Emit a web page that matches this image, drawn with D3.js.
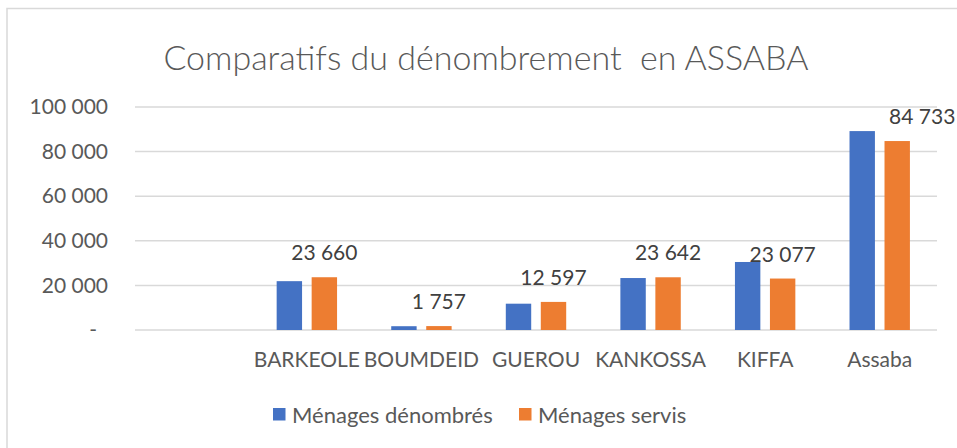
<!DOCTYPE html>
<html>
<head>
<meta charset="utf-8">
<script src="https://cdn.jsdelivr.net/npm/d3@7"></script>
<style>
  body { margin: 0; background: #fff; }
  text { font-family: Lato, "Open Sans", sans-serif; }
</style>
</head>
<body>
<div id="chart"></div>
<script>
var categories = ["", "BARKEOLE", "BOUMDEID", "GUEROU", "KANKOSSA", "KIFFA", "Assaba"];
var seriesNames = ["Ménages dénombrés", "Ménages servis"];
var denombres = [null, 21900, 1700, 11800, 23300, 30500, 89200];
var servis = [null, 23660, 1757, 12597, 23642, 23077, 84733];
var yTicks = [0, 20000, 40000, 60000, 80000, 100000];
var colors = ["#4472C4", "#ED7D31"];

var width = 957, height = 448;
var plot = {left: 135, right: 937, top: 107, bottom: 330};

var svg = d3.select("#chart")
    .append("svg")
        .attr("width", width)
        .attr("height", height);

// chart border (only top and left visible in the crop)
svg.append("rect")
    .attr("x", 7)
    .attr("y", 8.5)
    .attr("width", width + 20)
    .attr("height", height + 20)
    .attr("fill", "#fff")
    .attr("stroke", "#D9D9D9")
    .attr("stroke-width", 1.5);

svg.append("text")
    .attr("x", 486)
    .attr("y", 70)
    .attr("text-anchor", "middle")
    .attr("fill", "#595959")
    .style("font-size", "34px")
    .style("font-weight", 300)
    .style("white-space", "pre")
    .text("Comparatifs du dénombrement  en ASSABA");

var x0 = d3.scaleBand()
    .domain(categories)
    .range([plot.left, plot.right]);

var x1 = d3.scaleBand()
    .domain(seriesNames)
    .range([0, x0.bandwidth()])
    .paddingInner(0.274)
    .paddingOuter(0.774);

var y = d3.scaleLinear()
    .domain([0, 100000])
    .range([plot.bottom, plot.top]);

var fmt = function(v) { return d3.format(",")(v).replace(/,/g, " "); };

// gridlines
svg.append("g")
    .selectAll("line")
    .data(yTicks)
    .enter()
    .append("line")
        .attr("x1", plot.left)
        .attr("x2", plot.right)
        .attr("y1", function(d) { return y(d); })
        .attr("y2", function(d) { return y(d); })
        .attr("stroke", "#D9D9D9")
        .attr("stroke-width", 1.5);

// y axis labels
var yAxis = svg.append("g")
    .attr("transform", "translate(" + plot.left + ",0)")
    .call(d3.axisLeft(y)
        .tickValues(yTicks)
        .tickSize(0)
        .tickPadding(27)
        .tickFormat(function(d) { return d === 0 ? "-" : fmt(d); }));
yAxis.select(".domain").remove();
yAxis.selectAll("text")
    .attr("fill", "#595959")
    .style("font-size", "21px")
    .attr("dx", function(d) { return d === 0 ? -11 : 0; });

// x axis labels
var xAxis = svg.append("g")
    .attr("transform", "translate(0," + plot.bottom + ")")
    .call(d3.axisBottom(x0).tickSize(0).tickPadding(22));
xAxis.select(".domain").remove();
xAxis.selectAll("text")
    .attr("fill", "#595959")
    .style("font-size", "21px");

var rows = categories.map(function(c, i) {
    return {cat: c, values: [denombres[i], servis[i]]};
});

var groups = svg.append("g")
    .selectAll("g")
    .data(rows)
    .enter()
    .append("g")
        .attr("transform", function(d) { return "translate(" + x0(d.cat) + ",0)"; });

groups.selectAll("rect")
    .data(function(d) {
        return d.values.map(function(v, j) { return {name: seriesNames[j], value: v, j: j}; })
            .filter(function(e) { return e.value != null; });
    })
    .enter()
    .append("rect")
        .attr("x", function(d) { return x1(d.name); })
        .attr("y", function(d) { return y(d.value); })
        .attr("width", x1.bandwidth())
        .attr("height", function(d) { return y(0) - y(d.value); })
        .attr("fill", function(d) { return colors[d.j]; });

// data labels on the second series
svg.append("g")
    .selectAll("text")
    .data(rows.filter(function(d) { return d.values[1] != null; }))
    .enter()
    .append("text")
        .attr("x", function(d) { return x0(d.cat) + x1(seriesNames[1]) + x1.bandwidth() / 2; })
        .attr("y", function(d) { return y(d.values[1]) - 17; })
        .attr("dx", function(d, i, n) { return i === n.length - 1 ? 25 : 0; })
        .attr("text-anchor", "middle")
        .attr("fill", "#404040")
        .style("font-size", "21px")
        .text(function(d) { return fmt(d.values[1]); });

// legend
var legend = svg.append("g")
    .attr("transform", "translate(273, 408)");
var legendX = [0, 246];
seriesNames.forEach(function(name, i) {
    var item = legend.append("g").attr("transform", "translate(" + legendX[i] + ",0)");
    item.append("rect")
        .attr("width", 12.5)
        .attr("height", 12.5)
        .attr("fill", colors[i]);
    item.append("text")
        .attr("x", 19)
        .attr("y", 14.5)
        .attr("fill", "#595959")
        .style("font-size", "22px")
        .text(name);
});
</script>
</body>
</html>
